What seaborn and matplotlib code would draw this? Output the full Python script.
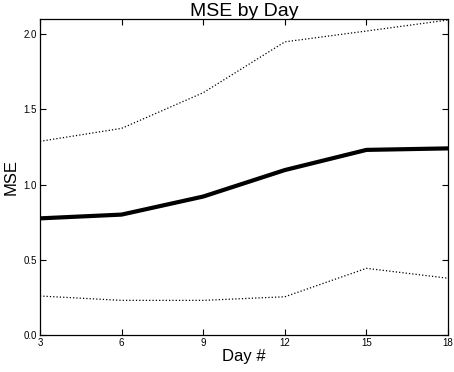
import matplotlib
matplotlib.use('Agg')
import matplotlib.pyplot as plt
import pandas
import seaborn

# Values
days = [3, 6, 9, 12, 15, 18]
mse_mean = [0.775, 0.80, 0.92, 1.096, 1.23, 1.24]
mse_upper = [1.287, 1.373, 1.61, 1.948, 2.02, 2.093]
mse_lower = [0.259, 0.23, 0.23, 0.254, 0.443, 0.377]

seaborn.set_style('ticks')
plt.rcParams['font.family'] = ['Liberation Sans', 'DejaVu Sans']
plt.rcParams['xtick.direction'] = 'in'
plt.rcParams['ytick.direction'] = 'in'
plt.rcParams['text.color'] = 'black'
plt.rcParams['axes.labelcolor'] = 'black'
plt.rcParams['xtick.color'] = 'black'
plt.rcParams['ytick.color'] = 'black'

data = pandas.DataFrame({'Day': days, 'Mean': mse_mean, 'Upper': mse_upper, 'Lower': mse_lower})

fig = plt.figure(figsize = (4.54, 3.72), dpi = 100)
ax = fig.add_axes([0.088, 0.0995, 0.899, 0.8495])

seaborn.lineplot(data = data, x = 'Day', y = 'Upper', color = 'black', linewidth = 0.9, linestyle = ':', ax = ax)
seaborn.lineplot(data = data, x = 'Day', y = 'Mean', color = 'black', linewidth = 3.0, ax = ax)
seaborn.lineplot(data = data, x = 'Day', y = 'Lower', color = 'black', linewidth = 0.9, linestyle = ':', ax = ax)

ax.set_xlim(3, 18)
ax.set_ylim(0, 2.1)
ax.set_xticks(days)
ax.set_yticks([0.0, 0.5, 1.0, 1.5, 2.0])
ax.set_yticklabels(['0.0', '0.5', '1.0', '1.5', '2.0'])
ax.tick_params(axis = 'both', labelsize = 7, top = True, right = True, length = 4, width = 0.8, pad = 2, colors = 'black')
for s in ax.spines.values():
    s.set_linewidth(0.9)
    s.set_color('black')

ax.set_title('MSE by Day', fontsize = 14, pad = 2, color = 'black')
ax.set_xlabel('Day #', fontsize = 12, labelpad = 1)
ax.set_ylabel('MSE', fontsize = 12, labelpad = 4)

fig.savefig('out.png', dpi = 100)
